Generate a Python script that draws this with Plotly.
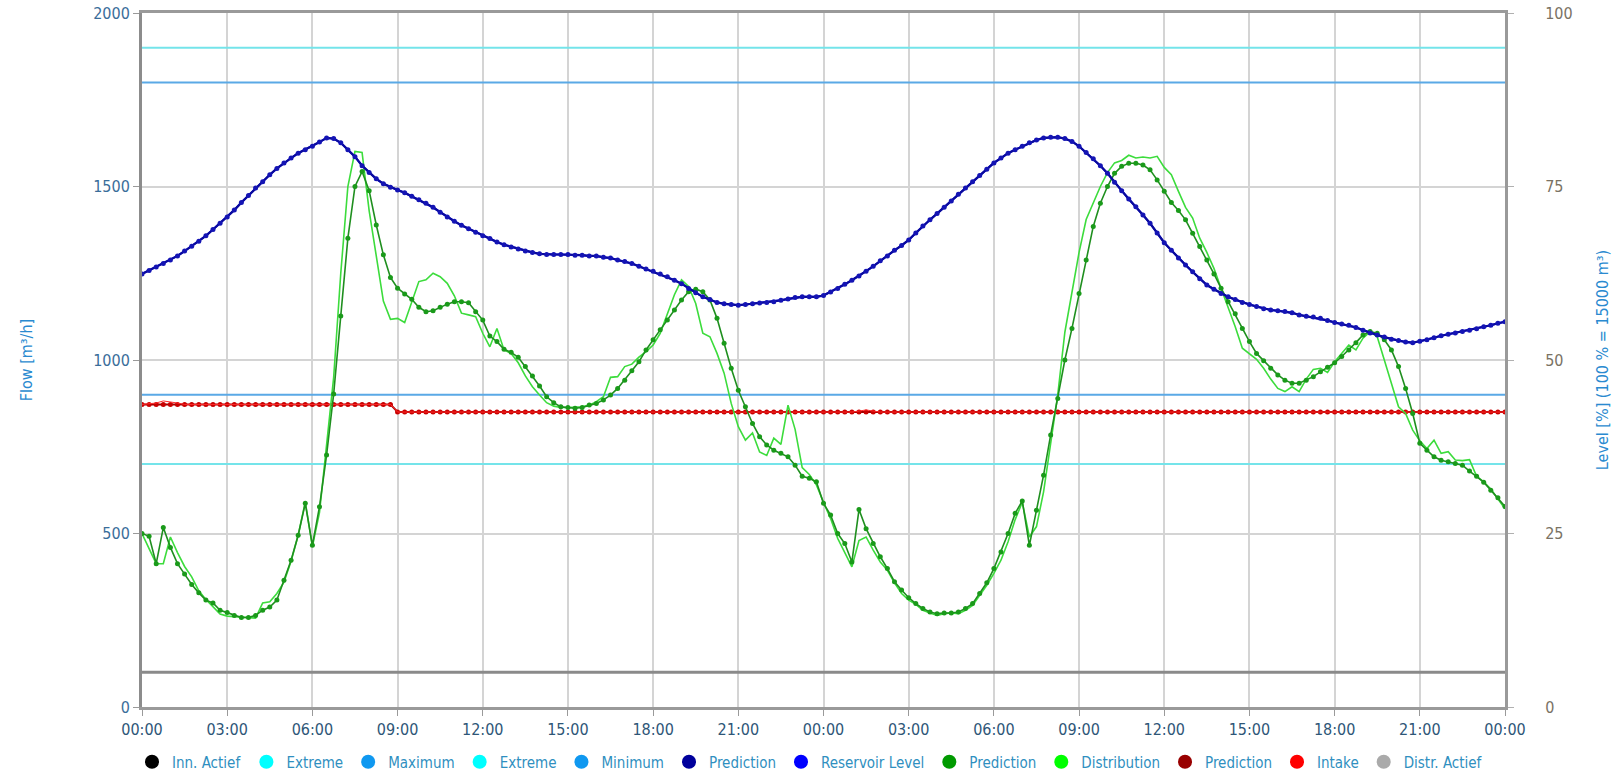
import pandas as pd
import plotly.graph_objects as go

# ---------------- data (15-minute samples, 00:00 day 1 .. 00:00 day 3) ----------------
level_pct = [
    62.4, 62.9, 63.4, 63.9, 64.4, 65.0, 65.7, 66.4, 67.1, 67.9, 68.8, 69.7, 70.6, 71.6, 72.7, 73.7,
    74.8, 75.7, 76.7, 77.6, 78.4, 79.1, 79.8, 80.3, 80.8, 81.4, 82.0, 81.9, 81.3, 80.3, 79.3, 78.0,
    77.0, 76.1, 75.4, 74.9, 74.5, 74.1, 73.6, 73.1, 72.6, 72.0, 71.3, 70.6, 70.0, 69.4, 68.9, 68.4,
    67.9, 67.5, 67.0, 66.6, 66.3, 66.0, 65.7, 65.5, 65.3, 65.2, 65.2, 65.2, 65.2, 65.1, 65.1, 65.0,
    65.0, 64.8, 64.7, 64.4, 64.2, 63.9, 63.5, 63.1, 62.8, 62.4, 62.0, 61.5, 61.0, 60.3, 59.7, 59.1,
    58.7, 58.3, 58.1, 58.0, 57.9, 58.0, 58.1, 58.2, 58.3, 58.4, 58.6, 58.8, 59.0, 59.1, 59.1, 59.1,
    59.3, 59.8, 60.3, 60.9, 61.5, 62.1, 62.8, 63.5, 64.3, 65.0, 65.8, 66.5, 67.3, 68.3, 69.3, 70.2,
    71.1, 72.0, 72.9, 73.9, 74.8, 75.7, 76.6, 77.5, 78.4, 79.1, 79.8, 80.3, 80.8, 81.3, 81.7, 82.0,
    82.1, 82.1, 81.9, 81.5, 80.8, 79.9, 79.0, 78.0, 76.9, 75.6, 74.4, 73.2, 72.1, 70.9, 69.7, 68.3,
    66.9, 65.8, 64.7, 63.7, 62.7, 61.7, 60.8, 60.2, 59.6, 59.1, 58.7, 58.3, 58.0, 57.7, 57.4, 57.2,
    57.1, 57.0, 56.8, 56.5, 56.3, 56.2, 56.0, 55.7, 55.4, 55.2, 55.0, 54.7, 54.3, 53.9, 53.6, 53.3,
    53.0, 52.8, 52.6, 52.5, 52.7, 52.9, 53.2, 53.5, 53.7, 53.9, 54.1, 54.3, 54.5, 54.8, 55.0, 55.3,
    55.5,
]

distribution_prediction = [
    500, 492, 413, 517, 460, 413, 383, 353, 329, 308, 300, 279, 272, 264, 258, 258,
    264, 279, 288, 308, 365, 423, 495, 587, 466, 577, 726, 902, 1127, 1351, 1500, 1543,
    1488, 1389, 1303, 1238, 1207, 1190, 1175, 1152, 1139, 1142, 1152, 1161, 1168, 1168, 1165,
    1139, 1115, 1069, 1053, 1031, 1022, 1008, 981, 954, 925, 894, 877, 865, 863, 861, 863,
    870, 875, 885, 899, 918, 942, 969, 995, 1029, 1058, 1087, 1115, 1144, 1173, 1197, 1204,
    1197, 1173, 1120, 1048, 976, 913, 865, 817, 779, 755, 740, 731, 721, 697, 665,
    659, 649, 587, 553, 500, 471, 418, 569, 514, 471, 433, 399, 361, 337, 315, 298,
    284, 274, 269, 271, 271, 274, 284, 298, 327, 358, 399, 447, 500, 558, 594, 466,
    567, 668, 784, 889, 1000, 1091, 1192, 1288, 1385, 1452, 1500, 1538, 1558, 1567,
    1567, 1562, 1548, 1519, 1486, 1454, 1431, 1404, 1365, 1327, 1288, 1248, 1207, 1168, 1133, 1091,
    1053, 1019, 998, 976, 957, 942, 933, 933, 942, 952, 966, 979, 992, 1010, 1029, 1050,
    1072, 1082, 1077, 1058, 1029, 981, 918, 846, 760, 740, 721, 711, 707, 702, 697, 680,
    665, 648, 625, 603, 578,
]

distribution = [
    500, 455, 413, 413, 490, 445, 405, 375, 335, 310, 288, 268, 262, 261, 260, 258,
    256, 300, 303, 327, 360, 420, 495, 591, 462, 560, 760, 950, 1250, 1500, 1601, 1598,
    1430, 1300, 1170, 1117, 1120, 1108, 1165, 1226, 1231, 1250, 1240, 1221, 1185, 1135, 1130,
    1125, 1077, 1038, 1091, 1029, 1019, 992, 954, 923, 899, 877, 867, 863, 863, 863, 865,
    870, 880, 894, 950, 952, 981, 988, 1008, 1024, 1043, 1077, 1135, 1188, 1231, 1212, 1163,
    1077, 1067, 1019, 962, 875, 808, 769, 790, 735, 725, 775, 757, 870, 800, 690,
    670, 640, 590, 543, 486, 447, 404, 480, 490, 452, 418, 394, 358, 327, 308, 296,
    279, 271, 264, 269, 271, 269, 279, 293, 322, 351, 385, 423, 476, 540, 590, 490,
    520, 620, 760, 900, 1080, 1198, 1310, 1405, 1452, 1500, 1540, 1568, 1575, 1590,
    1582, 1585, 1582, 1587, 1555, 1534, 1486, 1440, 1409, 1351, 1310, 1264, 1207, 1154, 1096, 1034,
    1019, 1002, 976, 945, 918, 909, 923, 909, 945, 973, 976, 964, 995, 1019, 1043, 1029,
    1063, 1082, 1067, 1000, 933, 865, 846, 798, 767, 745, 769, 731, 736, 712, 710, 713,
    665, 649, 628, 600, 571,
]

intake_prediction = [
    872, 872, 872, 872, 872, 872, 872, 872, 872, 872, 872, 872, 872, 872, 872, 872,
    872, 872, 872, 872, 872, 872, 872, 872, 872, 872, 872, 872, 872, 872, 872, 872,
    872, 872, 872, 872, 850, 850, 850, 850, 850, 850, 850, 850, 850, 850, 850, 850,
    850, 850, 850, 850, 850, 850, 850, 850, 850, 850, 850, 850, 850, 850, 850, 850,
    850, 850, 850, 850, 850, 850, 850, 850, 850, 850, 850, 850, 850, 850, 850, 850,
    850, 850, 850, 850, 850, 850, 850, 850, 850, 850, 850, 850, 850, 850, 850, 850,
    850, 850, 850, 850, 850, 850, 850, 850, 850, 850, 850, 850, 850, 850, 850, 850,
    850, 850, 850, 850, 850, 850, 850, 850, 850, 850, 850, 850, 850, 850, 850, 850,
    850, 850, 850, 850, 850, 850, 850, 850, 850, 850, 850, 850, 850, 850, 850, 850,
    850, 850, 850, 850, 850, 850, 850, 850, 850, 850, 850, 850, 850, 850, 850, 850,
    850, 850, 850, 850, 850, 850, 850, 850, 850, 850, 850, 850, 850, 850, 850, 850,
    850, 850, 850, 850, 850, 850, 850, 850, 850, 850, 850, 850, 850, 850, 850, 850,
    850,
]

intake = [
    872, 874, 876, 882, 880, 876, 872, 872, 872, 872, 872, 872, 872, 872, 872, 872,
    872, 872, 872, 872, 872, 872, 872, 872, 872, 872, 872, 872, 872, 872, 872, 872,
    872, 872, 872, 872, 850, 850, 850, 850, 850, 850, 850, 850, 850, 850, 850, 850,
    850, 850, 850, 850, 850, 850, 850, 850, 850, 850, 850, 850, 850, 850, 850, 850,
    850, 850, 850, 850, 850, 850, 850, 850, 850, 850, 850, 850, 850, 850, 850, 850,
    850, 850, 850, 850, 850, 850, 850, 850, 850, 850, 850, 850, 850, 850, 850, 850,
    850, 850, 850, 850, 850, 853, 856, 853, 850, 850, 850, 850, 850, 850, 850, 850,
    850, 850, 850, 850, 850, 850, 850, 850, 850, 850, 850, 850, 850, 850, 850, 850,
    850, 850, 850, 850, 850, 850, 850, 850, 850, 850, 850, 850, 850, 850, 850, 850,
    850, 850, 850, 850, 850, 850, 850, 850, 850, 850, 850, 850, 850, 850, 850, 850,
    850, 850, 850, 850, 850, 850, 850, 850, 850, 850, 850, 850, 850, 850, 850, 850,
    850, 850, 850, 850, 850, 850, 850, 850, 850, 850, 850, 850, 850, 850, 850, 850,
    850,
]

extreme_levels = [1900, 700]
maximum_level = 1800
minimum_level = 900
actief_level = 100

legend_names = ["Inn. Actief", "Extreme", "Maximum", "Extreme", "Minimum", "Prediction",
                "Reservoir Level", "Prediction", "Distribution", "Prediction", "Intake",
                "Distr. Actief"]
legend_colors = ["#000000", "#00ffff", "#0f98f0", "#00ffff", "#0f98f0", "#00009c",
                 "#0000ff", "#009a00", "#00ff00", "#990000", "#ff0000", "#aaaaaa"]

start = pd.Timestamp("2024-01-01 00:00")
times = [start + pd.Timedelta(minutes=15 * i) for i in range(len(level_pct))]
t0, t1 = times[0], times[-1]

FONT = "DejaVu Sans Condensed, DejaVu Sans, Verdana, sans-serif"
fig = go.Figure()

def hline(value, color, width, group):
    fig.add_trace(go.Scatter(x=[t0, t1], y=[value, value], mode="lines",
                             line=dict(color=color, width=width), showlegend=False,
                             legendgroup=group, hoverinfo="skip"))

hline(actief_level, "#333333", 1, "inn")
hline(extreme_levels[0], "#74e4ea", 2, "ext1")
hline(maximum_level, "#5aa9e6", 2, "max")
hline(extreme_levels[1], "#74e4ea", 2, "ext2")
hline(minimum_level, "#5aa9e6", 2, "min")
hline(actief_level, "#8a8a8a", 3, "distr")

fig.add_trace(go.Scatter(x=times, y=intake_prediction, mode="lines+markers",
                         line=dict(color="#a00000", width=2), marker=dict(color="#c80000", size=5),
                         showlegend=False, legendgroup="ipred"))
fig.add_trace(go.Scatter(x=times, y=intake, mode="lines",
                         line=dict(color="#ff2a2a", width=1), showlegend=False, legendgroup="intake"))

fig.add_trace(go.Scatter(x=times, y=level_pct, mode="lines", yaxis="y2",
                         line=dict(color="#0000ff", width=2), showlegend=False, legendgroup="lvl"))
fig.add_trace(go.Scatter(x=times, y=level_pct, mode="lines+markers", yaxis="y2",
                         line=dict(color="#0a0a9a", width=2.2),
                         marker=dict(color="#1414b4", size=5),
                         showlegend=False, legendgroup="lpred"))

fig.add_trace(go.Scatter(x=times, y=distribution, mode="lines",
                         line=dict(color="#3cdc3c", width=1.6), showlegend=False, legendgroup="dist"))
fig.add_trace(go.Scatter(x=times, y=distribution_prediction, mode="lines+markers",
                         line=dict(color="#1f8f1f", width=1.6), marker=dict(color="#1a9a1a", size=5),
                         showlegend=False, legendgroup="dpred"))

groups = ["inn", "ext1", "max", "ext2", "min", "lpred", "lvl", "dpred", "dist", "ipred", "intake", "distr"]
for name, color, grp in zip(legend_names, legend_colors, groups):
    fig.add_trace(go.Scatter(x=[None], y=[None], mode="markers", name=name, legendgroup=grp,
                             marker=dict(color=color, size=14, symbol="circle")))

grid = "#d4d4d4"
fig.update_layout(
    width=1620, height=774,
    margin=dict(l=142, r=115, t=13, b=67),
    paper_bgcolor="white", plot_bgcolor="white",
    font=dict(family=FONT, size=15),
    xaxis=dict(type="date", range=[t0, t1], tickformat="%H:%M", dtick=3 * 3600 * 1000,
               tick0=t0, showgrid=True, gridcolor=grid, gridwidth=1.5, automargin=False,
               showline=True, linecolor="#9a9a9a", linewidth=3, mirror=True,
               ticks="outside", ticklen=6, tickcolor="#9a9a9a",
               tickfont=dict(color="#2e5677", size=16, family=FONT)),
    yaxis=dict(range=[0, 2000], dtick=500, showgrid=True, gridcolor=grid, gridwidth=1.5,
               zeroline=False, showline=True, linecolor="#8c8c8c", linewidth=3, automargin=False,
               ticks="outside", ticklen=6, tickcolor="#9a9a9a",
               tickfont=dict(color="#3a6d9a", size=16, family=FONT),
               title=dict(text="Flow [m³/h]", font=dict(color="#2a8ad0", size=16, family=FONT),
                          standoff=57)),
    yaxis2=dict(range=[0, 100], dtick=25, overlaying="y", side="right", showgrid=False,
                zeroline=False, showline=True, linecolor="#9a9a9a", linewidth=3, automargin=False,
                ticks="outside", ticklen=6, tickcolor="#b0b0b0", ticklabelstandoff=28,
                tickfont=dict(color="#7a7264", size=16, family=FONT),
                title=dict(text="Level [%] (100 % = 15000 m³)",
                           font=dict(color="#2a8ad0", size=16, family=FONT), standoff=26)),
    legend=dict(orientation="h", x=0.5, xanchor="center", xref="container",
                y=12 / 774, yanchor="middle", yref="container",
                font=dict(color="#2f8fc0", size=15, family=FONT), itemwidth=30,
                bgcolor="rgba(0,0,0,0)"),
    showlegend=True,
)

fig.write_html("out.html", config={"displayModeBar": False},
               post_script="document.body.style.margin='0px';")
